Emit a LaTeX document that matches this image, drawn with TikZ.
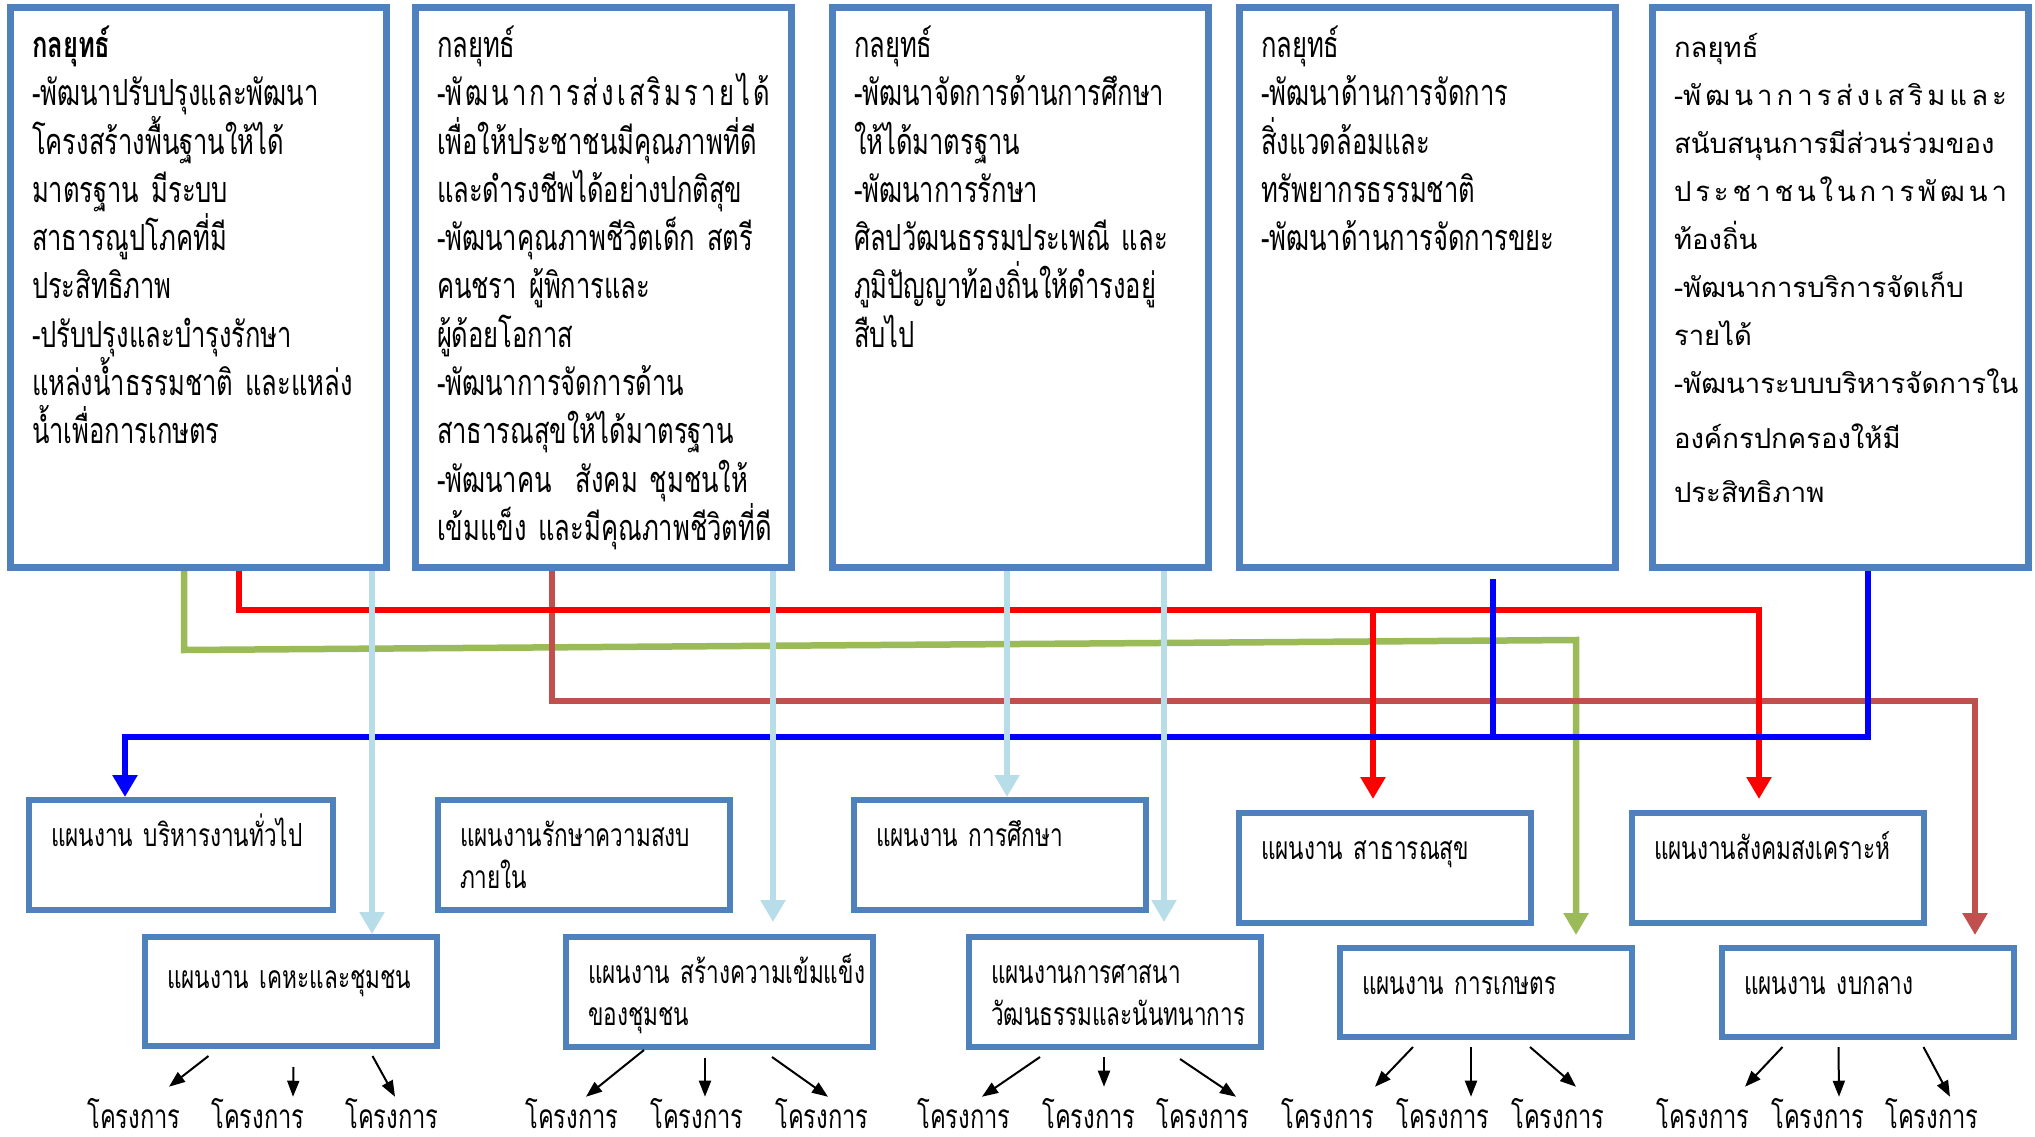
\documentclass[tikz,border=0pt]{standalone}
\usepackage{fontspec}
\setmainfont{Loma}[Script=Thai]
\newfontfamily\condthai{Loma}[Script=Thai,FakeStretch=0.71]
\usetikzlibrary{arrows.meta}
\exhyphenpenalty=10000
\hyphenpenalty=10000

\definecolor{boxblue}{HTML}{4F81BD}
\definecolor{linegreen}{HTML}{9BBB59}
\definecolor{linered}{HTML}{FF0000}
\definecolor{linebrick}{HTML}{C0504D}
\definecolor{lineblue}{HTML}{0000FF}
\definecolor{linesky}{HTML}{B7DEE8}

\newcommand{\spreadline}[1]{\makebox[\linewidth][s]{\spaceskip=0pt plus 1fil\relax #1}}

\begin{document}
\begin{tikzpicture}[x=1pt, y=-1pt,
  strategy/.style={draw=boxblue, line width=7pt, anchor=north west, align=left,
    text width=333pt, inner xsep=21.5pt, inner ysep=0pt,
    text height=50pt, text depth=510pt,
    font=\condthai\fontsize{36}{48.3}\selectfont},
  plan/.style={draw=boxblue, line width=6pt, anchor=north west, align=left,
    text width=248pt, inner xsep=22pt, inner ysep=0pt,
    text height=46pt, text depth=64pt,
    font=\condthai\fontsize{31.8}{42}\selectfont},
  project/.style={anchor=base, inner xsep=2pt, inner ysep=1pt, text depth=0pt,
    font=\condthai\fontsize{33.4}{34}\selectfont},
  feed/.style={line width=6.5pt, -{Triangle[length=22pt,width=24pt]}},
  proj/.style={line width=2pt, -{Triangle[length=16pt,width=12pt]}}
]
\useasboundingbox[fill=white] (0,0) rectangle (2035,1137);

\node[strategy] (s1) at (7,4) {\textbf{กลยุทธ์}\\
  -พัฒนาปรับปรุงและพัฒนา\\
  โครงสร้างพื้นฐานให้ได้\\
  มาตรฐาน~มีระบบ\\
  สาธารณูปโภคที่มี\\
  ประสิทธิภาพ\\
  -ปรับปรุงและบำรุงรักษา\\
  แหล่งน้ำธรรมชาติ~และแหล่ง\\
  น้ำเพื่อการเกษตร};
\node[strategy] (s2) at (412,4) {กลยุทธ์\\
  \spreadline{-พั ฒ น า ก า ร ส่ ง เ ส ริ ม ร า ย ไ ด้}\\
  เพื่อให้ประชาชนมีคุณภาพที่ดี\\
  และดำรงชีพได้อย่างปกติสุข\\
  -พัฒนาคุณภาพชีวิตเด็ก~สตรี\\
  คนชรา~ผู้พิการและ\\
  ผู้ด้อยโอกาส\\
  -พัฒนาการจัดการด้าน\\
  สาธารณสุขให้ได้มาตรฐาน\\
  -พัฒนาคน~~สังคม~ชุมชนให้\\
  เข้มแข็ง~และมีคุณภาพชีวิตที่ดี};
\node[strategy] (s3) at (829,4) {กลยุทธ์\\
  -พัฒนาจัดการด้านการศึกษา\\
  ให้ได้มาตรฐาน\\
  -พัฒนาการรักษา\\
  ศิลปวัฒนธรรมประเพณี~และ\\
  ภูมิปัญญาท้องถิ่นให้ดำรงอยู่\\
  สืบไป};
\node[strategy] (s4) at (1236,4) {กลยุทธ์\\
  -พัฒนาด้านการจัดการ\\
  สิ่งแวดล้อมและ\\
  ทรัพยากรธรรมชาติ\\
  -พัฒนาด้านการจัดการขยะ};
\node[strategy, font=\rmfamily\fontsize{27.5}{48}\selectfont] (s5) at (1649,4) {กลยุทธ์\\
  \spreadline{-พั ฒ น า ก า ร ส่ ง เ ส ริ ม แ ล ะ}\\
  สนับสนุนการมีส่วนร่วมของ\\
  \spreadline{ป ร ะ ช า ช น ใ น ก า ร พั ฒ น า}\\
  ท้องถิ่น\\
  -พัฒนาการบริการจัดเก็บ\\
  รายได้\\
  -พัฒนาระบบบริหารจัดการใน\\[7pt]
  องค์กรปกครองให้มี\\[6pt]
  ประสิทธิภาพ};

\node[plan, text width=260pt] (p1) at (26,797) {แผนงาน~บริหารงานทั่วไป};
\node[plan] (p2) at (435,797) {แผนงานรักษาความสงบ\\ภายใน};
\node[plan] (p3) at (851,797) {แผนงาน~การศึกษา};
\node[plan] (p4) at (1236,810) {แผนงาน~สาธารณสุข};
\node[plan] (p5) at (1629,810) {แผนงานสังคมสงเคราะห์};
\node[plan, text height=51pt, text depth=58pt] (q1) at (142,934) {แผนงาน~เคหะและชุมชน};
\node[plan, text width=263pt] (q2) at (563,934) {แผนงาน~สร้างความเข้มแข็ง\\ของชุมชน};
\node[plan] (q3) at (966,934) {แผนงานการศาสนา\\วัฒนธรรมและนันทนาการ};
\node[plan, text depth=43pt] (q4) at (1337,945) {แผนงาน~การเกษตร};
\node[plan, text depth=43pt] (q5) at (1719,945) {แผนงาน~งบกลาง};

\node[project] (k11) at (134,1128) {โครงการ};
\node[project] (k12) at (258,1128) {โครงการ};
\node[project] (k13) at (392,1128) {โครงการ};
\node[project] (k21) at (572,1128) {โครงการ};
\node[project] (k22) at (697,1128) {โครงการ};
\node[project] (k23) at (822,1128) {โครงการ};
\node[project] (k31) at (964,1128) {โครงการ};
\node[project] (k32) at (1089,1128) {โครงการ};
\node[project] (k33) at (1203,1128) {โครงการ};
\node[project] (k41) at (1328,1128) {โครงการ};
\node[project] (k42) at (1443,1128) {โครงการ};
\node[project] (k43) at (1558,1128) {โครงการ};
\node[project] (k51) at (1703,1128) {โครงการ};
\node[project] (k52) at (1818,1128) {โครงการ};
\node[project] (k53) at (1932,1128) {โครงการ};

\coordinate (g1) at (184,650);
\coordinate (g2) at (1576,640);
\coordinate (r1) at (1759,610);
\coordinate (r2) at (1373,610);
\coordinate (d1) at (1975,701);
\coordinate (u1) at (125,737);

\draw[feed, linegreen, shorten >=10pt] ([xshift=-14.5pt]s1.south) -- (g1) -- (g2) -- (g2 |- q4.north);
\draw[feed, linebrick, shorten >=10pt] ([xshift=-51.5pt]s2.south) |- (d1) -- (d1 |- q5.north);
\draw[feed, linered, shorten >=11pt] ([xshift=40.5pt]s1.south) |- (r1) -- (r1 |- p5.north);
\draw[feed, linered, shorten >=11pt] (r2) -- (r2 |- p4.north);
\draw[feed, lineblue] ([xshift=27.5pt]s5.south) |- (u1) -- (u1 |- p1.north);
\draw[line width=6.5pt, lineblue, shorten <=8pt] ([xshift=65.5pt]s4.south) -- ([xshift=65.5pt]s4.south |- u1);
\draw[feed, linesky] ([xshift=173.5pt]s1.south) -- ([xshift=173.5pt]s1.south |- q1.north);
\draw[feed, linesky, shorten >=12pt] ([xshift=169.5pt]s2.south) -- ([xshift=169.5pt]s2.south |- q2.north);
\draw[feed, linesky] ([xshift=-13.5pt]s3.south) -- ([xshift=-13.5pt]s3.south |- p3.north);
\draw[feed, linesky, shorten >=12pt] ([xshift=143.5pt]s3.south) -- ([xshift=143.5pt]s3.south |- q3.north);

\draw[proj] ([xshift=-82.5pt,yshift=-7pt]q1.south) to ([xshift=35pt,yshift=10pt]k11.north);
\draw[proj] ([xshift=2.5pt,yshift=-18pt]q1.south) to ([xshift=35pt]k12.north);
\draw[proj] ([xshift=81.5pt,yshift=-7pt]q1.south) to ([xshift=3pt]k13.north);
\draw[proj] ([xshift=-75.5pt]q2.south) to ([xshift=14pt]k21.north);
\draw[proj] ([xshift=-14.5pt,yshift=-8pt]q2.south) to ([xshift=8pt]k22.north);
\draw[proj] ([xshift=52.5pt,yshift=-7pt]q2.south) to ([xshift=6pt]k23.north);
\draw[proj] ([xshift=-75pt,yshift=-7pt]q3.south) to ([xshift=18pt]k31.north);
\draw[proj] ([xshift=-11pt,yshift=-7pt]q3.south) to ([xshift=15pt,yshift=10pt]k32.north);
\draw[proj] ([xshift=65pt,yshift=-9pt]q3.south) to ([xshift=33pt]k33.north);
\draw[proj] ([xshift=-73pt,yshift=-7pt]q4.south) to ([xshift=47pt,yshift=10pt]k41.north);
\draw[proj] ([xshift=-15pt,yshift=-7pt]q4.south) to ([xshift=28pt]k42.north);
\draw[proj] ([xshift=44pt,yshift=-7pt]q4.south) to ([xshift=18pt,yshift=10pt]k43.north);
\draw[proj] ([xshift=-85.5pt,yshift=-7pt]q5.south) to ([xshift=42pt,yshift=10pt]k51.north);
\draw[proj] ([xshift=-29.5pt,yshift=-7pt]q5.south) to ([xshift=21pt]k52.north);
\draw[proj] ([xshift=55.5pt,yshift=-7pt]q5.south) to ([xshift=18pt]k53.north);
\end{tikzpicture}
\end{document}
